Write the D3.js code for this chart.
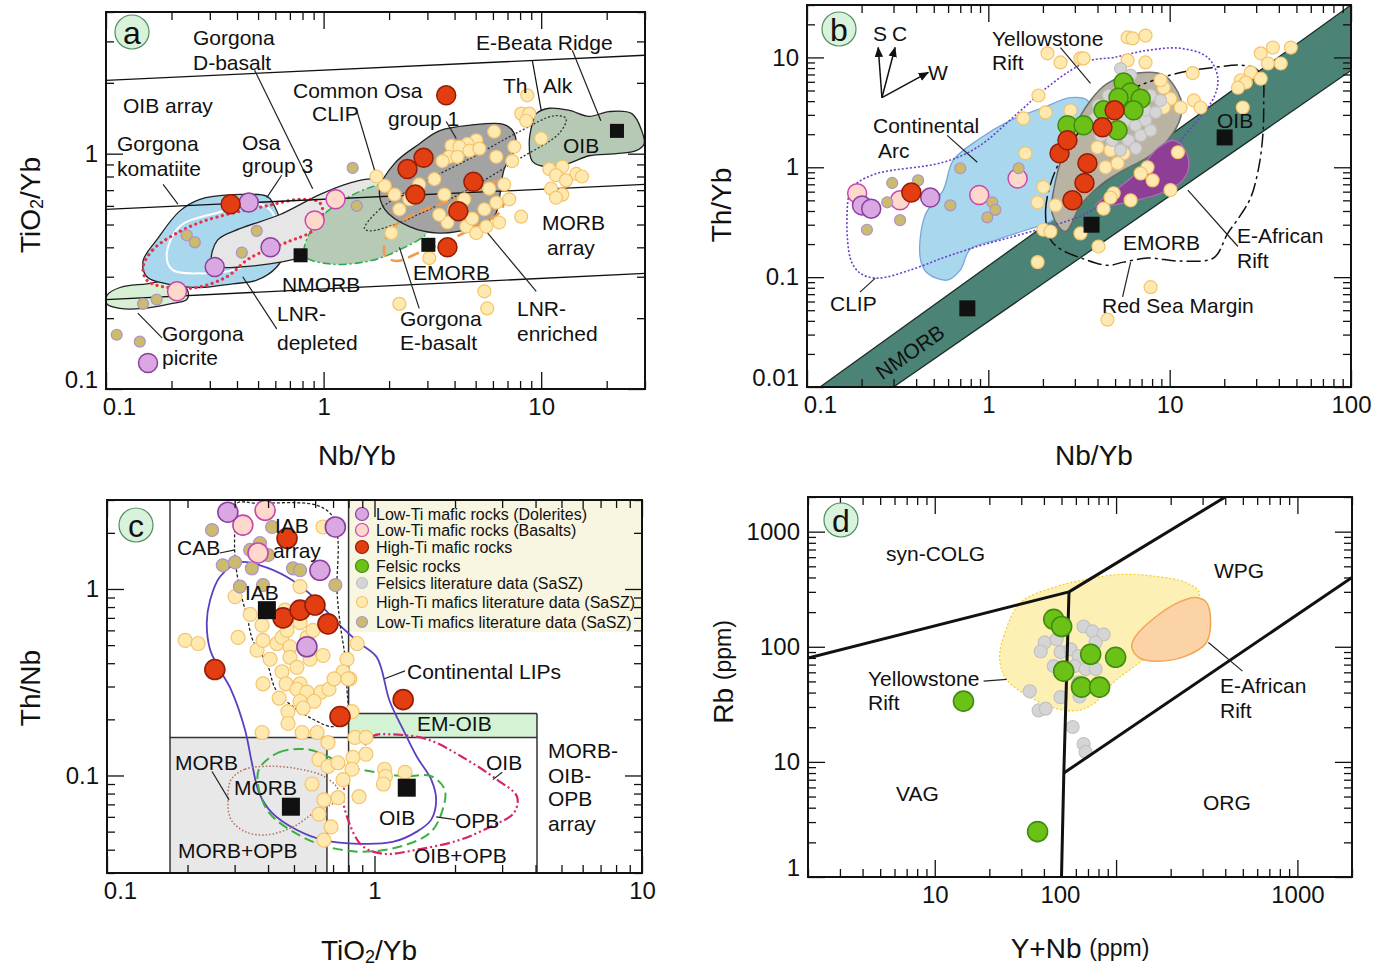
<!DOCTYPE html>
<meta charset="utf-8">
<style>
  body { margin: 0; background: #fff; }
  svg text { font-family: "Liberation Sans", Arial, Helvetica, sans-serif; fill: #111; }
  .frame { fill: none; stroke: #111; stroke-width: 2px; }
  .axis path { display: none; }
  .axis line { stroke: #111; stroke-width: 1.3px; }
  .note { font-size: 21px; dominant-baseline: central; }
  .title { font-size: 28px; dominant-baseline: central; text-anchor: middle; }
  .lead { stroke: #222; stroke-width: 1.2px; fill: none; }
  .legend-text { font-size: 16px; dominant-baseline: central; }
</style>
<body>
<svg id="fig" width="1389" height="966"></svg>
<script src="https://cdnjs.cloudflare.com/ajax/libs/d3/7.8.5/d3.min.js"></script>
<script>
// ---------- panel a : TiO2/Yb vs Nb/Yb ----------
const aXTicks = [0.1, 1, 10], aYTicks = [0.1, 1];
const aArrayLines = [[[0.1, 2.05], [30, 2.62]], [[0.1, 0.58], [30, 0.74]], [[0.1, 0.24], [30, 0.31]]];
const aThAlk = [[9.1, 2.5], [10, 1.53]];
const aPicrite = [[0.101,0.25],[0.116,0.27],[0.154,0.28],[0.212,0.29],[0.238,0.26],[0.235,0.24],[0.197,0.23],[0.148,0.22],[0.116,0.22],[0.101,0.23]];
const aKomatiite = [[0.148,0.35],[0.171,0.43],[0.218,0.57],[0.27,0.64],[0.383,0.67],[0.548,0.66],[0.583,0.62],[0.676,0.40],[0.609,0.33],[0.493,0.29],[0.383,0.28],[0.27,0.27],[0.19,0.28],[0.154,0.30]];
const aKomWhite = [[0.19,0.37],[0.218,0.49],[0.323,0.56],[0.508,0.61],[0.583,0.56],[0.596,0.43],[0.508,0.36],[0.383,0.32],[0.27,0.31],[0.203,0.32]];
const aOsa3 = [[0.306,0.35],[0.326,0.43],[0.412,0.48],[0.628,0.55],[0.959,0.67],[1.315,0.75],[1.71,0.78],[2.01,0.71],[1.97,0.62],[1.46,0.47],[0.959,0.38],[0.776,0.36],[0.565,0.34],[0.412,0.33],[0.333,0.33]];
const aClip = [[0.818,0.37],[0.91,0.50],[1.25,0.64],[1.81,0.74],[2.75,0.78],[3.40,0.64],[3.06,0.47],[2.23,0.39],[1.63,0.35],[1.066,0.34]];
const aOsa1 = [[1.91,0.58],[1.81,0.71],[2.12,0.91],[2.75,1.10],[3.40,1.25],[4.68,1.32],[6.76,1.33],[7.52,1.22],[7.60,1.05],[6.76,0.86],[6.41,0.64],[6.08,0.54],[4.68,0.48],[3.40,0.46],[2.48,0.49]];
const aOib = [[9.49,1.48],[10.9,1.56],[13.4,1.53],[16.6,1.44],[20.5,1.51],[26.1,1.48],[29.0,1.25],[29.7,1.10],[27.3,1.03],[22.1,1.0],[16.6,0.98],[13.4,0.91],[10.5,0.88],[9.10,0.93],[8.81,1.10],[9.10,1.34]];
const aEBasalt = [[1.54,0.48],[1.81,0.58],[2.75,0.74],[4.68,0.95],[7.92,1.24],[11.5,1.45],[13.0,1.41],[12.1,1.22],[7.92,0.95],[4.68,0.71],[3.06,0.58],[2.12,0.50],[1.63,0.47]];
const aLnrEnriched = [[1.91,0.37],[2.01,0.47],[2.48,0.54],[3.40,0.61],[4.68,0.67],[6.08,0.76],[6.83,0.77],[6.90,0.67],[6.41,0.56],[5.20,0.50],[3.80,0.43],[2.75,0.38],[2.16,0.35]];
const aLnrDepleted = [[0.148,0.33],[0.164,0.39],[0.203,0.45],[0.27,0.51],[0.383,0.56],[0.548,0.60],[0.776,0.64],[0.959,0.62],[0.989,0.54],[0.891,0.47],[0.676,0.42],[0.458,0.36],[0.359,0.30],[0.261,0.27],[0.19,0.27],[0.154,0.29]];
const aLeaders = [[[0.482,2.26],[0.891,0.71]],[[1.42,1.53],[1.75,0.80]],[[0.642,0.81],[0.548,0.65]],[[0.183,0.74],[0.214,0.61]],[[0.425,0.30],[0.609,0.18]],[[0.140,0.21],[0.181,0.165]],[[3.66,1.37],[4.07,1.16]],[[2.23,0.40],[2.75,0.22]],[[5.36,0.49],[9.49,0.26]],[[13.9,2.75],[18.8,1.38]]];
const aRefSquares = [[0.784,0.37],[3.03,0.41],[22.3,1.25]];
const aHtiLit = [[8.63,1.77],[8.09,1.48],[8.81,1.48],[8.53,1.38],[6.08,1.24],[5.03,1.14],[4.58,1.10],[3.87,1.08],[4.21,1.07],[4.68,1.03],[5.20,1.05],[3.78,0.97],[3.52,0.93],[4.12,0.97],[6.22,0.97],[7.36,0.93],[7.52,1.07],[10,1.16],[10.9,0.86],[12.5,0.88],[11.7,0.81],[14.5,0.82],[13.0,0.77],[15.4,0.80],[11.1,0.71],[12.5,0.67],[11.7,0.65],[1.91,0.73],[1.75,0.80],[2.05,0.46],[2.23,0.58],[3.06,0.36],[3.71,0.51],[4.53,0.49],[5.03,0.46],[4.82,0.53],[5.59,0.49],[6.41,0.51],[5.48,0.58],[6.22,0.62],[7.13,0.64],[8.09,0.54],[5.48,0.26],[5.65,0.22],[2.23,0.23],[2.75,0.74],[3.23,0.78],[3.59,0.67],[4.43,0.64],[5.77,0.71],[6.76,0.74],[3.40,0.55],[3.99,0.58],[2.12,0.67],[2.48,0.64]];
const aLtiLit = [[0.235,0.45],[0.256,0.42],[0.493,0.47],[0.421,0.38],[0.148,0.23],[0.171,0.24],[0.112,0.17],[0.143,0.159],[1.42,0.60],[1.36,0.87]];
const aBas = [[0.212,0.26],[0.91,0.52],[1.135,0.64]];
const aDol = [[0.453,0.62],[0.57,0.40],[0.316,0.33],[0.156,0.129]];
const aHti = [[0.374,0.61],[3.66,1.77],[2.43,0.86],[2.88,0.96],[2.64,0.67],[4.88,0.76],[4.16,0.57],[3.71,0.40]];

// ---------- panel b : Th/Yb vs Nb/Yb ----------
const bXTicks = [0.1, 1, 10, 100], bYTicks = [0.01, 0.1, 1, 10];
const bBand = [[0.118,0.01],[100,30],[100,7.6],[0.30,0.01]];
const bArc = [[0.421,0.15],[0.449,0.37],[0.564,0.62],[0.641,1.16],[0.869,1.76],[1.324,2.67],[2.01,3.5],[2.84,4.3],[3.52,4.06],[3.90,2.17],[3.22,0.94],[2.66,0.41],[2.20,0.32],[1.64,0.27],[1.122,0.22],[0.796,0.18],[0.70,0.116],[0.593,0.094],[0.460,0.109]];
const bClip = [[0.173,0.62],[0.173,0.15],[0.196,0.109],[0.244,0.098],[0.371,0.116],[0.564,0.15],[0.869,0.19],[1.324,0.23],[2.01,0.28],[3.10,0.35],[4.72,0.50],[7.55,0.76],[11.5,1.76],[17.5,4.3],[18.4,6.6],[16.2,10.0],[11.5,12.1],[7.55,11.6],[4.91,10.0],[3.66,9.4],[2.84,7.6],[2.01,5.0],[1.45,3.1],[0.869,1.52],[0.564,1.11],[0.244,0.88],[0.191,0.73]];
const bYellowstone = [[2.66,0.26],[2.26,0.37],[2.35,0.76],[2.84,1.95],[3.66,4.06],[4.54,5.8],[6.65,7.2],[9.27,6.9],[11.5,4.2],[11.5,2.85],[9.75,1.76],[7.55,1.23],[5.57,0.94],[4.16,0.69],[3.22,0.45]];
const bEAfrica = [[3.90,0.45],[5.03,0.62],[6.65,0.90],[8.59,1.49],[10.5,1.76],[12.2,1.43],[12.7,0.98],[11.5,0.73],[8.91,0.58],[6.49,0.50],[4.72,0.45]];
const bRedSea = [[2.20,0.22],[2.07,0.41],[2.35,0.94],[3.22,2.17],[4.72,4.06],[6.92,5.6],[11.5,7.3],[17.5,8.1],[24.7,8.5],[29.9,7.9],[32.7,6.2],[33.0,4.06],[32.7,2.04],[31.0,1.0],[28.0,0.53],[24.7,0.37],[20.9,0.25],[17.5,0.15],[11.5,0.14],[7.55,0.149],[5.57,0.137],[4.54,0.128],[3.22,0.15],[2.50,0.18]];
const bVectorOrigin = [0.259, 4.3];
const bVectorTips = [[0.247,12.3],[0.306,12.3],[0.466,7.3]];
const bLeaders = [[[2.50,12.3],[3.66,5.8]],[[0.593,1.95],[0.869,1.11]],[[0.196,0.073],[0.238,0.098]],[[5.50,0.066],[6.09,0.137]],[[12.6,0.62],[23.8,0.19]]];
const bRefSquares = [[20.1,1.87],[3.71,0.30],[0.766,0.052]];
const bHtiLit = [[2.12,10.9],[2.50,9.0],[3.22,9.8],[1.89,4.5],[1.56,2.79],[2.84,3.3],[1.60,1.34],[2.01,0.66],[5.86,15.2],[7.36,15.8],[6.25,14.9],[3.35,9.8],[7.36,9.0],[5.86,9.4],[9.27,5.3],[10.1,4.2],[9.27,3.5],[11.5,3.5],[13.6,4.06],[14.8,3.5],[13.4,7.2],[8.91,6.2],[4.72,1.43],[4.00,1.52],[5.57,1.34],[4.43,1.0],[5.16,1.09],[7.55,1.0],[8.05,0.76],[6.92,0.88],[11.1,1.37],[10.1,0.62],[4.91,0.58],[6.09,0.50],[31.8,10.9],[37.1,12.3],[46.6,12.3],[34.8,8.8],[41.0,8.8],[28.0,7.3],[24.7,6.2],[26.3,5.9],[23.8,5.3],[31.8,6.4],[25.3,3.5],[4.72,0.53],[4.32,0.42],[4.05,0.19],[7.85,0.081],[4.54,0.041],[1.87,0.137],[2.01,0.27],[1.87,0.48],[3.22,0.25],[2.20,0.26],[2.07,3.16],[2.35,0.45]];
const bFelLit = [[5.36,7.9],[6.09,6.9],[4.05,3.66],[4.43,2.67],[5.03,2.41],[5.71,2.67],[6.49,2.41],[7.36,2.67],[6.92,1.95],[7.85,2.17],[5.93,1.76],[4.82,1.76],[4.16,1.95],[5.36,1.43],[6.49,1.49],[7.36,3.3],[8.37,3.16],[3.90,2.79],[4.60,4.5],[7.85,4.5],[8.91,4.06]];
const bLtiLit = [[0.277,0.48],[0.326,0.33],[0.214,0.27],[0.617,0.45],[1.052,0.48],[1.094,0.41],[0.987,0.35],[0.295,0.72],[0.410,0.76],[0.70,0.98],[1.47,0.98]];
const bBas = [[0.189,0.58],[0.326,0.50],[0.891,0.56],[1.45,0.79]];
const bDol = [[0.201,0.45],[0.226,0.42],[0.478,0.53]];
const bFel = [[5.57,5.9],[6.09,4.8],[5.22,4.3],[6.92,4.2],[6.32,3.3],[4.32,3.3],[2.73,2.41],[3.35,2.41],[5.16,2.17]];
const bHti = [[0.376,0.59],[2.47,1.34],[2.73,1.76],[2.91,0.50],[3.39,0.72],[3.52,1.09],[4.26,2.31],[4.97,3.3]];

// ---------- panel c : Th/Nb vs TiO2/Yb ----------
const cXTicks = [0.1, 1, 10], cYTicks = [0.1, 1];
const cDividers = [[[0.172,0.03],[0.172,3]],[[0.80,0.03],[0.80,3]],[[0.664,0.03],[0.664,0.160]],[[4.05,0.03],[4.05,0.215]],[[0.172,0.160],[4.05,0.160]],[[0.80,0.215],[4.05,0.215]]];
const cMorbBox = [[0.172,0.03],[0.664,0.160]];
const cEmOibBox = [[0.80,0.160],[4.05,0.215]];
const cLips = [[0.314,1.39],[0.373,1.34],[0.471,1.16],[0.589,0.91],[0.724,0.66],[0.883,0.51],[1.02,0.43],[1.14,0.25],[1.28,0.176],[1.44,0.126],[1.63,0.095],[1.70,0.074],[1.63,0.058],[1.44,0.050],[1.17,0.044],[0.875,0.043],[0.647,0.045],[0.513,0.051],[0.414,0.063],[0.370,0.081],[0.348,0.117],[0.328,0.176],[0.291,0.288],[0.264,0.369],[0.243,0.472],[0.236,0.66],[0.243,0.873],[0.264,1.16]];
const cIab = [[0.306,2.88],[0.364,2.88],[0.610,2.81],[0.700,2.43],[0.730,1.83],[0.724,0.99],[0.743,0.66],[0.776,0.43],[0.789,0.288],[0.796,0.234],[0.776,0.192],[0.688,0.183],[0.594,0.199],[0.496,0.234],[0.428,0.288],[0.396,0.40],[0.351,0.53],[0.334,0.71],[0.314,0.99],[0.301,1.48],[0.301,2.25]];
const cMorb = [[0.291,0.095],[0.328,0.108],[0.414,0.112],[0.527,0.108],[0.647,0.099],[0.730,0.084],[0.707,0.072],[0.594,0.063],[0.496,0.053],[0.393,0.048],[0.328,0.050],[0.291,0.058],[0.283,0.074]];
const cOpb = [[0.370,0.108],[0.439,0.133],[0.559,0.138],[0.670,0.126],[0.796,0.112],[1.01,0.104],[1.28,0.099],[1.63,0.099],[1.83,0.084],[1.80,0.066],[1.63,0.050],[1.28,0.042],[0.899,0.039],[0.647,0.042],[0.496,0.050],[0.404,0.063],[0.370,0.084]];
const cOib = [[0.796,0.099],[0.875,0.126],[0.98,0.162],[1.17,0.166],[1.58,0.156],[2.12,0.126],[2.87,0.095],[3.41,0.077],[3.32,0.063],[2.70,0.053],[2.07,0.045],[1.44,0.040],[1.08,0.038],[0.899,0.042],[0.796,0.058],[0.763,0.077]];
const cLeaders = [[[0.264,1.56],[0.301,1.62]],[[1.30,0.364],[1.09,0.33]],[[0.247,0.105],[0.286,0.074]],[[3.0,0.104],[2.77,0.095]],[[2.0,0.058],[1.70,0.060]]];
const cRefSquares = [[0.396,0.77],[0.487,0.068],[1.32,0.086]];
const cHtiLit = [[0.642,2.15],[0.527,1.03],[0.301,0.91],[0.463,0.77],[0.196,0.53],[0.219,0.51],[0.309,0.55],[0.364,0.47],[0.383,0.53],[0.432,0.51],[0.451,0.55],[0.471,0.60],[0.527,0.66],[0.559,0.55],[0.483,0.49],[0.407,0.42],[0.483,0.43],[0.513,0.38],[0.574,0.42],[0.589,0.60],[0.451,0.36],[0.527,0.31],[0.383,0.31],[0.861,0.51],[0.789,0.42],[0.763,0.36],[0.809,0.33],[0.467,0.31],[0.513,0.29],[0.559,0.28],[0.631,0.28],[0.676,0.29],[0.440,0.26],[0.527,0.25],[0.594,0.25],[0.541,0.23],[0.475,0.22],[0.475,0.19],[0.380,0.17],[0.536,0.17],[0.610,0.17],[0.670,0.15],[0.824,0.22],[0.846,0.16],[0.929,0.16],[0.620,0.122],[0.670,0.112],[0.730,0.117],[0.831,0.125],[0.929,0.13],[0.824,0.108],[0.763,0.095],[0.584,0.090],[0.647,0.074],[0.730,0.076],[0.875,0.077],[0.620,0.062],[0.688,0.053],[0.647,0.045],[1.09,0.108],[1.10,0.099],[1.08,0.090],[1.30,0.104],[0.706,0.33],[0.796,0.33],[0.343,0.73],[0.380,0.64],[0.642,0.44]];
const cLtiLit = [[0.247,2.07],[0.271,1.34],[0.301,1.39],[0.348,1.29],[0.373,1.76],[0.343,1.62],[0.400,1.52],[0.383,1.05],[0.314,1.03],[0.496,1.29],[0.527,1.26],[0.714,1.05],[0.414,2.15]];
const cBas = [[0.390,2.64],[0.322,2.20],[0.367,1.56]];
const cDol = [[0.283,2.58],[0.714,2.15],[0.625,1.26],[0.559,0.49]];
const cHti = [[0.471,1.87],[0.455,0.70],[0.527,0.77],[0.599,0.82],[0.670,0.65],[0.253,0.37],[1.28,0.255],[0.743,0.207]];
const legendLabels = ["Low-Ti mafic rocks (Dolerites)", "Low-Ti mafic rocks (Basalts)", "High-Ti mafic rocks", "Felsic rocks", "Felsics literature data (SaSZ)", "High-Ti mafics literature data (SaSZ)", "Low-Ti mafics literature data (SaSZ)"];

// ---------- panel d : Rb vs Y+Nb ----------
const dXTicks = [10, 49, 1000], dXTickText = ["10", "100", "1000"]; // middle label sits under the boundary, as printed
const dYTicks = [1, 10, 100, 1000];
const dBoundaries = [[[2,80],[55,300]],[[55,300],[400,2000]],[[55,300],[51.5,8],[50,1]],[[51.5,8],[2000,400]]];
const dYellowstone = [[22.8,78],[24.0,123],[29.8,243],[47.0,334],[67.9,384],[106,425],[167,408],[242,362],[288,296],[254,191],[197,116],[135,73],[96.8,49],[77.1,33],[62.1,28],[47.0,29],[33.0,37],[24.9,52]];
const dEAfrica = [[122,101],[128,123],[167,184],[221,243],[274,268],[315,243],[332,163],[315,109],[242,83],[167,75],[133,81]];
const dLeaders = [[[18.6,50.3],[24.9,52]],[[323,109],[498,61.4]]];
const dFelLit = [[66.2,150],[74.2,136],[85.3,128],[40.4,109],[47.0,116],[38.4,91],[49.4,90],[56.1,95],[62.1,83],[77.1,109],[45.3,68],[59.1,68],[67.9,64],[77.1,64],[62.1,49],[62.9,37],[49.4,36.5],[33.4,41],[37.4,28],[40.9,29],[57.6,20.1],[66.2,14.3],[67.9,12.2]];
const dFel = [[45.3,173],[50.1,150],[72.4,86],[99.4,81],[51.4,61.4],[64.5,44.6],[81.1,44.6],[14.4,33.7],[36.9,2.48]];

// ---------- drawing ----------
const svg = d3.select("#fig");
const ST = {
  dol: { fill: "#d9a8e2", stroke: "#8c3f9e" },
  bas: { fill: "#fdd8cb", stroke: "#c846b0" },
  hti: { fill: "#e33d12", stroke: "#951d06" },
  fel: { fill: "#6cc117", stroke: "#3f8d0f" },
  felLit: { fill: "#d5d5d5", stroke: "#c2c2c2" },
  htiLit: { fill: "#fee9b0", stroke: "#f5c46c" },
  ltiLit: { fill: "#cbbb6c", stroke: "#ad92cc" }
};

svg.append("defs").append("marker")
  .attr("id", "arrow").attr("viewBox", "0 0 10 10").attr("refX", 9).attr("refY", 5)
  .attr("markerWidth", 7).attr("markerHeight", 7).attr("orient", "auto")
  .append("path").attr("d", "M0,1 L10,5 L0,9 Z").attr("fill", "#111");

function makePanel(o) {
  const x = d3.scaleLog().domain(o.xDomain).range([o.left, o.right]);
  const y = d3.scaleLog().domain(o.yDomain).range([o.bottom, o.top]);
  const g = svg.append("g");
  svg.select("defs").append("clipPath").attr("id", "clip-" + o.name)
    .append("rect").attr("x", o.left).attr("y", o.top)
    .attr("width", o.right - o.left).attr("height", o.bottom - o.top);
  const plot = g.append("g").attr("clip-path", "url(#clip-" + o.name + ")");
  const path = d3.line().x(d => x(d[0])).y(d => y(d[1]));
  const smooth = d3.line().x(d => x(d[0])).y(d => y(d[1])).curve(d3.curveCatmullRomClosed.alpha(0.5));
  return { o, x, y, g, plot, path, smooth };
}

function style(sel, s) { Object.entries(s).forEach(([k, v]) => sel.attr(k, v)); return sel; }

function field(p, pts, s, closedSmooth = true) {
  const d = closedSmooth ? p.smooth(pts) : p.path(pts) + "Z";
  return style(p.plot.append("path").attr("d", d), Object.assign({ fill: "none" }, s));
}

function segs(p, list, s) {
  list.forEach(l => style(p.plot.append("path").attr("d", p.path(l)), Object.assign({ fill: "none" }, s)));
}

function dots(p, pts, s, r, sw = 1.2) {
  p.plot.append("g").selectAll("circle").data(pts).join("circle")
    .attr("cx", d => p.x(d[0])).attr("cy", d => p.y(d[1])).attr("r", r)
    .attr("fill", s.fill).attr("stroke", s.stroke).attr("stroke-width", sw);
}

function squares(p, pts, size) {
  p.plot.append("g").selectAll("rect").data(pts).join("rect")
    .attr("x", d => p.x(d[0]) - size / 2).attr("y", d => p.y(d[1]) - size / 2)
    .attr("width", size).attr("height", size).attr("fill", "#111");
}

function notes(p, list) {
  list.forEach(([t, x, y, anchor]) => p.g.append("text").attr("class", "note")
    .attr("x", x).attr("y", y).attr("text-anchor", anchor || "start").text(t));
}

function axes(p, xLab, yLab, xText, yText) {
  const { x, y, g, o } = p;
  const isMajor = v => Math.abs(Math.log10(v) - Math.round(Math.log10(v))) < 1e-9;
  const xt = x.ticks(), yt = y.ticks();
  [[d3.axisBottom, x, xt, `translate(0,${o.bottom})`],
   [d3.axisTop, x, xt, `translate(0,${o.top})`],
   [d3.axisLeft, y, yt, `translate(${o.left},0)`],
   [d3.axisRight, y, yt, `translate(${o.right},0)`]].forEach(([ax, sc, t, tr]) => {
    g.append("g").attr("class", "axis").attr("transform", tr)
      .call(ax(sc).tickValues(t.filter(v => !isMajor(v))).tickSize(-8).tickFormat(""));
    g.append("g").attr("class", "axis").attr("transform", tr)
      .call(ax(sc).tickValues(t.filter(isMajor)).tickSize(-17).tickFormat(""));
  });
  const xa = g.append("g").attr("transform", `translate(0,${o.bottom})`)
    .call(d3.axisBottom(x).tickValues(xLab).tickSize(0).tickPadding(9)
      .tickFormat((d, i) => xText ? xText[i] : String(d)));
  xa.attr("font-size", 24).attr("font-family", null).select(".domain").remove();
  xa.selectAll("text").filter(d => d === x.domain()[0]).attr("x", 13);
  const ya = g.append("g").attr("transform", `translate(${o.left},0)`)
    .call(d3.axisLeft(y).tickValues(yLab).tickSize(0).tickPadding(8)
      .tickFormat((d, i) => yText ? yText[i] : String(d)));
  ya.attr("font-size", 24).attr("font-family", null).select(".domain").remove();
  ya.selectAll("text").filter(d => d === y.domain()[0]).attr("y", -9);
  g.append("rect").attr("class", "frame").attr("x", o.left).attr("y", o.top)
    .attr("width", o.right - o.left).attr("height", o.bottom - o.top);
}

function badge(p, cx, cy, letter) {
  p.g.append("circle").attr("cx", cx).attr("cy", cy).attr("r", 17)
    .attr("fill", "#d9f2dc").attr("stroke", "#4f8f5f").attr("stroke-width", 1.2);
  p.g.append("text").attr("x", cx).attr("y", cy + 1).attr("text-anchor", "middle")
    .attr("dominant-baseline", "central").attr("font-size", 32).text(letter);
}

function tio2(sel) {
  sel.append("tspan").text("TiO");
  sel.append("tspan").attr("font-size", 18).attr("dy", 7).text("2");
  sel.append("tspan").attr("dy", -7).text("/Yb");
}

// ===== panel a =====
const A = makePanel({ name: "a", left: 106, right: 645, top: 12, bottom: 389, xDomain: [0.1, 30], yDomain: [0.1, 4] });
field(A, aPicrite, { fill: "#d7f0d5", stroke: "#222", "stroke-width": 1.3 });
field(A, aKomatiite, { fill: "#a9d7ee", stroke: "#222", "stroke-width": 1.3 });
field(A, aKomWhite, { stroke: "#fff", "stroke-width": 2 });
field(A, aOsa3, { fill: "#e6e6e6", stroke: "#222", "stroke-width": 1.3 });
field(A, aClip, { fill: "#b7cab6", stroke: "#2ea84a", "stroke-width": 1.5, "stroke-dasharray": "8,3,2,3" });
field(A, aOsa1, { fill: "#a3a3a3", stroke: "#222", "stroke-width": 1.3 });
field(A, aOib, { fill: "#b6c9b4", stroke: "#222", "stroke-width": 1.3 });
field(A, aEBasalt, { stroke: "#333", "stroke-width": 1.3, "stroke-dasharray": "2,2" });
field(A, aLnrEnriched, { stroke: "#f39a4a", "stroke-width": 2.6, "stroke-dasharray": "12,6" });
field(A, aLnrDepleted, { stroke: "#e8314a", "stroke-width": 3.2, "stroke-dasharray": "0.1,5.5", "stroke-linecap": "round" });
segs(A, aArrayLines, { stroke: "#111", "stroke-width": 1.3 });
segs(A, [aThAlk], { stroke: "#111", "stroke-width": 1.2 });
segs(A, aLeaders, { stroke: "#222", "stroke-width": 1.2 });
dots(A, aHtiLit, ST.htiLit, 6.5);
dots(A, aLtiLit, ST.ltiLit, 5.5);
squares(A, aRefSquares, 14);
dots(A, aBas, ST.bas, 9.5, 1.5);
dots(A, aDol, ST.dol, 9.5, 1.5);
dots(A, aHti, ST.hti, 9.5, 1.5);
axes(A, aXTicks, aYTicks);
notes(A, [["Gorgona",193,37],["D-basalt",193,62],["E-Beata Ridge",476,42],["OIB array",123,105],["Common Osa",293,90],["CLIP",312,113],["group 1",388,118],["Th",503,85],["Alk",543,85],["OIB",563,145],["Gorgona",117,143],["komatiite",117,168],["Osa",242,142],["group 3",242,165],["MORB",542,222],["array",547,247],["NMORB",282,284],["EMORB",413,272],["LNR-",277,313],["depleted",277,342],["Gorgona",400,318],["E-basalt",400,342],["LNR-",517,308],["enriched",517,333],["Gorgona",162,333],["picrite",162,357]]);
badge(A, 132, 32, "a");
A.g.append("text").attr("class", "title").attr("x", 357).attr("y", 455).text("Nb/Yb");
tio2(A.g.append("text").attr("class", "title").attr("transform", "translate(30,205) rotate(-90)"));

// ===== panel b =====
const B = makePanel({ name: "b", left: 807, right: 1351, top: 5, bottom: 387, xDomain: [0.1, 100], yDomain: [0.01, 30] });
field(B, bBand, { fill: "#4b8476", stroke: "#1d2d28", "stroke-width": 1.3 }, false);
field(B, bArc, { fill: "#a9d7ee", stroke: "#7aa7d9", "stroke-width": 1.3 });
field(B, bYellowstone, { fill: "#b9b3a3", stroke: "#6b6b6b", "stroke-width": 1.5 });
field(B, bClip, { stroke: "#6a3fc8", "stroke-width": 1.6, "stroke-dasharray": "2,2" });
field(B, bEAfrica, { fill: "#8e3f95", stroke: "#b06ab8", "stroke-width": 1.3 });
field(B, bRedSea, { stroke: "#111", "stroke-width": 1.5, "stroke-dasharray": "14,4,3,4" });
segs(B, bLeaders, { stroke: "#222", "stroke-width": 1.2 });
bVectorTips.forEach(t => B.g.append("path").attr("d", B.path([bVectorOrigin, t]))
  .attr("stroke", "#111").attr("stroke-width", 1.5).attr("fill", "none").attr("marker-end", "url(#arrow)"));
dots(B, bHtiLit, ST.htiLit, 6.5);
dots(B, bFelLit, ST.felLit, 6);
dots(B, bBas, ST.bas, 9.5, 1.5);
dots(B, bDol, ST.dol, 9.5, 1.5);
dots(B, bLtiLit, ST.ltiLit, 5.5);
dots(B, bFel, ST.fel, 9.5, 1.5);
dots(B, bHti, ST.hti, 9.5, 1.5);
squares(B, bRefSquares, 16);
axes(B, bXTicks, bYTicks);
notes(B, [["S",873,33],["C",892,33],["W",928,72],["Yellowstone",992,38],["Rift",992,62],["Continental",873,125],["Arc",878,150],["OIB",1217,120],["EMORB",1123,242],["E-African",1237,235],["Rift",1237,260],["Red Sea Margin",1102,305],["CLIP",830,303]]);
B.g.append("text").attr("class", "note").attr("text-anchor", "middle")
  .attr("transform", "translate(910,352) rotate(-35)").text("NMORB");
badge(B, 839, 29, "b");
B.g.append("text").attr("class", "title").attr("x", 1094).attr("y", 455).text("Nb/Yb");
B.g.append("text").attr("class", "title").attr("transform", "translate(721,205) rotate(-90)").text("Th/Yb");

// ===== panel c =====
const C = makePanel({ name: "c", left: 107, right: 642, top: 500, bottom: 873, xDomain: [0.1, 10], yDomain: [0.03, 3] });
[[cMorbBox, "#e8e8e8"], [cEmOibBox, "#d4f2d4"]].forEach(([b, col]) => C.plot.append("rect")
  .attr("x", C.x(b[0][0])).attr("y", C.y(b[1][1]))
  .attr("width", C.x(b[1][0]) - C.x(b[0][0])).attr("height", C.y(b[0][1]) - C.y(b[1][1])).attr("fill", col));
C.plot.append("rect").attr("x", 349).attr("y", 501).attr("width", 293).attr("height", 131).attr("fill", "#f8f5e1");
segs(C, cDividers, { stroke: "#333", "stroke-width": 1.5 });
field(C, cLips, { stroke: "#5a3fc0", "stroke-width": 1.8 });
field(C, cIab, { stroke: "#222", "stroke-width": 1.3, "stroke-dasharray": "3,2" });
field(C, cMorb, { stroke: "#b0705a", "stroke-width": 1.5, "stroke-dasharray": "1.5,2" });
field(C, cOpb, { stroke: "#3cb043", "stroke-width": 2, "stroke-dasharray": "10,5" });
field(C, cOib, { stroke: "#d8246a", "stroke-width": 2.2, "stroke-dasharray": "10,3,2,3,2,3" });
segs(C, cLeaders, { stroke: "#222", "stroke-width": 1.2 });
dots(C, cHtiLit, ST.htiLit, 7);
dots(C, cLtiLit, ST.ltiLit, 6.5);
dots(C, cBas, ST.bas, 10, 1.6);
dots(C, cDol, ST.dol, 10, 1.6);
dots(C, cHti, ST.hti, 10, 1.6);
squares(C, cRefSquares, 18);
const legendKeys = ["dol", "bas", "hti", "fel", "felLit", "htiLit", "ltiLit"];
const legendRowY = [514, 530, 547, 566, 583, 602, 622];
legendLabels.forEach((t, i) => {
  const s = ST[legendKeys[i]];
  C.g.append("circle").attr("cx", 362).attr("cy", legendRowY[i]).attr("r", i < 4 ? 6.5 : 5.5)
    .attr("fill", s.fill).attr("stroke", s.stroke).attr("stroke-width", 1.2);
  C.g.append("text").attr("class", "legend-text").attr("x", 376).attr("y", legendRowY[i]).text(t);
});
axes(C, cXTicks, cYTicks);
notes(C, [["CAB",177,547],["IAB",275,525],["array",273,550],["IAB",245,592],["Continental LIPs",407,671],["EM-OIB",417,723],["MORB",175,762],["MORB",234,787],["OIB",486,762],["OIB",379,817],["OPB",455,820],["MORB+OPB",178,850],["OIB+OPB",414,855],["MORB-",548,750],["OIB-",548,775],["OPB",548,798],["array",548,823]]);
badge(C, 136, 525, "c");
tio2(C.g.append("text").attr("class", "title").attr("x", 369).attr("y", 950));
C.g.append("text").attr("class", "title").attr("transform", "translate(30,688) rotate(-90)").text("Th/Nb");

// ===== panel d =====
const D = makePanel({ name: "d", left: 808, right: 1352, top: 497, bottom: 877, xDomain: [2, 2000], yDomain: [1, 2000] });
field(D, dYellowstone, { fill: "#fdf0b5", stroke: "#f3cf2f", "stroke-width": 1.2, "stroke-dasharray": "2,2" });
field(D, dEAfrica, { fill: "#fbd3a7", stroke: "#f4a450", "stroke-width": 1.5 });
dots(D, dFelLit, ST.felLit, 6.5);
segs(D, dBoundaries, { stroke: "#111", "stroke-width": 3 });
segs(D, dLeaders, { stroke: "#222", "stroke-width": 1.2 });
dots(D, dFel, ST.fel, 10, 1.6);
axes(D, dXTicks, dYTicks, dXTickText);
notes(D, [["syn-COLG",886,553],["WPG",1214,570],["Yellowstone",868,678],["Rift",868,702],["E-African",1220,685],["Rift",1220,710],["VAG",896,793],["ORG",1203,802]]);
badge(D, 841, 520, "d");
const dx = D.g.append("text").attr("class", "title").attr("x", 1080).attr("y", 948);
dx.append("tspan").text("Y+Nb ");
dx.append("tspan").attr("font-size", 23).text("(ppm)");
const dy = D.g.append("text").attr("class", "title").attr("transform", "translate(723,672) rotate(-90)");
dy.append("tspan").text("Rb ");
dy.append("tspan").attr("font-size", 23).text("(ppm)");
</script>
</body>
